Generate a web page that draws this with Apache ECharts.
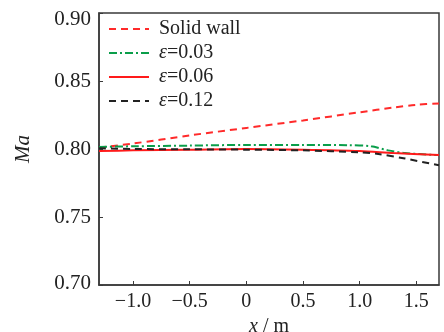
<!DOCTYPE html>
<html>
<head>
<meta charset="utf-8">
<script src="https://cdn.jsdelivr.net/npm/echarts@6/dist/echarts.min.js"></script>
<style>html,body{margin:0;padding:0;background:#fff}#c{width:444px;height:332px}</style>
</head>
<body>
<div id="c"></div>
<script>
const seriesNames = ['Solid wall', 'ε=0.03', 'ε=0.06', 'ε=0.12'];
const xSolid = [-1.3, -1.0, -0.5, 0, 0.5, 1.0, 1.3, 1.5, 1.7];
const ySolid = [0.801, 0.804, 0.810, 0.8155, 0.821, 0.827, 0.8305, 0.8325, 0.8335];
const x003 = [-1.3, -1.0, -0.5, 0, 0.5, 0.9, 1.1, 1.25, 1.4, 1.7];
const y003 = [0.8015, 0.802, 0.8025, 0.803, 0.803, 0.8028, 0.802, 0.799, 0.797, 0.7955];
const x006 = [-1.3, -1.0, -0.5, 0, 0.5, 1.0, 1.3, 1.7];
const y006 = [0.7985, 0.799, 0.7995, 0.800, 0.7995, 0.7985, 0.797, 0.7955];
const x012 = [-1.3, -1.0, -0.5, 0, 0.5, 1.0, 1.15, 1.4, 1.7];
const y012 = [0.8005, 0.800, 0.7998, 0.7995, 0.799, 0.7975, 0.7965, 0.793, 0.788];
const xTicks = [-1.0, -0.5, 0, 0.5, 1.0, 1.5];
const yTicks = [0.70, 0.75, 0.80, 0.85, 0.90];

const zip = (xs, ys) => xs.map((x, i) => [x, ys[i]]);
const font = "'Liberation Serif', 'Times New Roman', serif";
const axisCol = '#3a3a3a';
const txt = '#222';

const chart = echarts.init(document.getElementById('c'), null, {renderer: 'canvas'});
chart.setOption({
  animation: false,
  backgroundColor: '#fff',
  grid: {left: 99, right: 5, top: 13, bottom: 47, containLabel: false, outerBoundsMode: 'none',
    show: true, borderColor: axisCol, borderWidth: 1.5, backgroundColor: 'transparent'},
  legend: {
    left: 103, top: 14, orient: 'vertical',
    itemWidth: 40, itemHeight: 14, itemGap: 4,
    data: seriesNames,
    itemStyle: {opacity: 0},
    formatter: n => n.startsWith('ε') ? '{e|ε}{t|' + n.slice(1) + '}' : '{t|' + n + '}',
    textStyle: {
      fontFamily: font, fontSize: 20, color: txt, padding: [0, 0, 0, 5],
      rich: {
        e: {fontFamily: font, fontSize: 20, fontStyle: 'italic', color: txt, lineHeight: 20},
        t: {fontFamily: font, fontSize: 20, color: txt, lineHeight: 20}
      }
    }
  },
  xAxis: {
    type: 'value', min: -1.3, max: 1.7,
    name: '{i|x}{n| / m}', nameLocation: 'middle', nameGap: 30,
    nameTextStyle: {rich: {i: {fontFamily: font, fontSize: 20, fontStyle: 'italic', color: txt}, n: {fontFamily: font, fontSize: 20, color: txt}}},
    axisLine: {onZero: false, lineStyle: {color: axisCol, width: 1.5}},
    axisTick: {inside: true, length: 4, customValues: xTicks, lineStyle: {color: axisCol}},
    axisLabel: {customValues: xTicks, margin: 7, fontFamily: font, fontSize: 20, color: txt,
      formatter: v => v === 0 ? '0' : v.toFixed(1).replace('-', '−')},
    splitLine: {show: false}
  },
  yAxis: {
    type: 'value', min: 0.70, max: 0.90, interval: 0.05,
    name: 'Ma', nameLocation: 'middle', nameGap: 47,
    nameTextStyle: {fontFamily: font, fontSize: 21, fontStyle: 'italic', color: txt, padding: [0, 0, 18, 0]},
    axisLine: {onZero: false, lineStyle: {color: axisCol, width: 1.5}},
    axisTick: {inside: true, length: 4, lineStyle: {color: axisCol}},
    axisLabel: {margin: 8, fontFamily: font, fontSize: 21, color: txt,
      formatter: v => {
        const s = v.toFixed(2);
        if (Math.abs(v - 0.90) < 1e-9) return '{top|' + s + '}';
        if (Math.abs(v - 0.70) < 1e-9) return '{bot|' + s + '}';
        return s;
      },
      rich: {
        top: {fontFamily: font, fontSize: 21, color: txt, padding: [12, 0, 0, 0]},
        bot: {fontFamily: font, fontSize: 21, color: txt, padding: [0, 0, 4, 0]}
      }
    },
    splitLine: {show: false}
  },
  series: [
    {name: seriesNames[0], type: 'line', data: zip(xSolid, ySolid), symbol: 'none', smooth: 0.3,
      lineStyle: {color: '#ff2a2a', width: 2, type: [7, 5]}, itemStyle: {color: '#ff2a2a'}},
    {name: seriesNames[1], type: 'line', data: zip(x003, y003), symbol: 'none', smooth: 0.3,
      lineStyle: {color: '#0a9e4a', width: 2, type: [8, 3, 2, 3]}, itemStyle: {color: '#0a9e4a'}},
    {name: seriesNames[2], type: 'line', data: zip(x006, y006), symbol: 'none', smooth: 0.3,
      lineStyle: {color: '#ff1a1a', width: 2, type: 'solid'}, itemStyle: {color: '#ff1a1a'}},
    {name: seriesNames[3], type: 'line', data: zip(x012, y012), symbol: 'none', smooth: 0.3,
      lineStyle: {color: '#222', width: 2, type: [7, 5]}, itemStyle: {color: '#222'}}
  ]
});
</script>
</body>
</html>
